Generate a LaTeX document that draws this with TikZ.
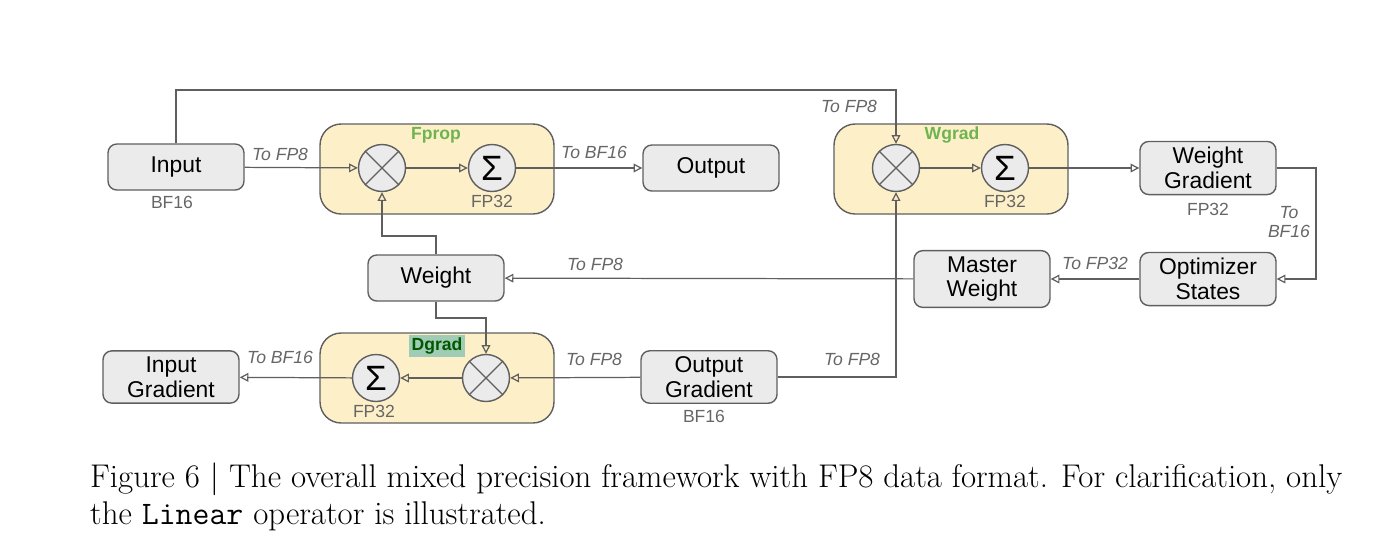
\documentclass[tikz,border=0pt]{standalone}
\usepackage{fontspec}
\setmainfont{Latin Modern Roman}
\newfontfamily\diagfont{Liberation Sans}
\usetikzlibrary{arrows.meta,positioning}
\definecolor{boxfill}{RGB}{235,235,235}
\definecolor{boxline}{RGB}{95,95,95}
\definecolor{opfill}{RGB}{253,240,200}
\definecolor{labgreen}{RGB}{110,180,80}
\definecolor{hlgreen}{RGB}{120,180,150}
\tikzset{
  blk/.style={draw=boxline, fill=boxfill, rounded corners=5pt, line width=0.8pt,
    minimum width=2.72cm, minimum height=0.92cm, align=center,
    font=\diagfont\fontsize{13}{14}\selectfont},
  grp/.style={draw=boxline, fill=opfill, rounded corners=12pt, line width=0.8pt,
    minimum width=4.68cm, minimum height=1.8cm},
  op/.style={draw=boxline, fill=boxfill, circle, line width=0.8pt, minimum size=0.94cm, inner sep=0pt,
    font=\diagfont\fontsize{20}{20}\selectfont},
  tag/.style={font=\diagfont\fontsize{10}{11}\selectfont\itshape, text=black!60, align=center},
  fmt/.style={font=\diagfont\fontsize{10}{10}\selectfont, text=black!60},
  flow/.style={draw=boxline, line width=0.7pt, -{Triangle[open, length=5pt, width=5pt]}},
}
\newcommand{\mulsign}[1]{%
  \draw[boxline, line width=0.7pt] (#1.north west) -- (#1.south east)
    (#1.north east) -- (#1.south west);}
\begin{document}
\begin{tikzpicture}[x=0.02cm, y=-0.02cm]
\useasboundingbox (0,0) rectangle (1400,559);
% operator groups
\node[grp] (fgrp) at (437,169) {};
\node[grp] (wgrp) at (951,169) {};
\node[grp] (dgrp) at (437,378) {};
\node[font=\diagfont\fontsize{10}{10}\selectfont\bfseries, text=labgreen] at (436,135) {Fprop};
\node[font=\diagfont\fontsize{10}{10}\selectfont\bfseries, text=labgreen] at (952,135) {Wgrad};
\node[font=\diagfont\fontsize{10}{10}\selectfont\bfseries, text=black!65!green, fill=hlgreen!70, inner sep=1.5pt] at (437,346) {Dgrad};
% boxes
\node[blk] (input) at (176,167) {Input};
\node[blk] (output) at (711,168) {Output};
\node[blk] (wgrad) at (1208,168) {Weight\\Gradient};
\node[blk] (optim) at (1208,279) {Optimizer\\States};
\node[blk] (master) at (982,279) {Master\\Weight};
\node[blk] (weight) at (436,278) {Weight};
\node[blk] (ingrad) at (171,377) {Input\\Gradient};
\node[blk] (outgrad) at (709,377) {Output\\Gradient};
% operators
\node[op] (fmul) at (382,168) {};
\node[op] (fsum) at (492,168) {Σ};
\node[op] (wmul) at (896,168) {};
\node[op] (wsum) at (1005,168) {Σ};
\node[op] (dmul) at (486,378) {};
\node[op] (dsum) at (376,378) {Σ};
\mulsign{fmul} \mulsign{wmul} \mulsign{dmul}
% formats
\node[fmt] at (172,202) {BF16};
\node[fmt] at (492,201) {FP32};
\node[fmt] at (1005,201) {FP32};
\node[fmt] at (1208,209) {FP32};
\node[fmt] at (374,411) {FP32};
\node[fmt] at (704,416) {BF16};
% connectors
\draw[flow] (input) -- (fmul);
\node[tag] at (280,154) {To FP8};
\draw[flow] (fmul) -- (fsum);
\draw[flow] (fsum) -- (output);
\node[tag] at (594,152) {To BF16};
\draw[flow] (input.north) |- (896,90) -- (wmul.north);
\node[tag] at (849,106) {To FP8};
\draw[flow] (wmul) -- (wsum);
\draw[flow] (wsum) -- (wgrad);
\draw[flow] (wgrad.east) -| (1316,220) |- (optim.east);
\node[tag] at (1289,222) {To\\BF16};
\draw[flow] (optim) -- (master);
\node[tag] at (1095,263) {To FP32};
\draw[flow] (master) -- (weight);
\node[tag] at (595,264) {To FP8};
\draw[flow] (weight.north) |- (382,236) -- (fmul.south);
\draw[flow] (weight.south) |- (486,318) -- (dmul.north);
\draw[flow] (outgrad) -- (dmul);
\node[tag] at (594,359) {To FP8};
\draw[flow] (dmul) -- (dsum);
\draw[flow] (dsum) -- (ingrad);
\node[tag] at (280,357) {To BF16};
\draw[flow] (outgrad.east) -| (wmul.south);
\node[tag] at (852,359) {To FP8};
% caption
\node[anchor=west, align=left, font=\fontsize{18.7}{21}\selectfont] at (84,497)
  {Figure 6 | The overall mixed precision framework with FP8 data format. For clarification, only\\
   the \texttt{Linear} operator is illustrated.};
\end{tikzpicture}
\end{document}
